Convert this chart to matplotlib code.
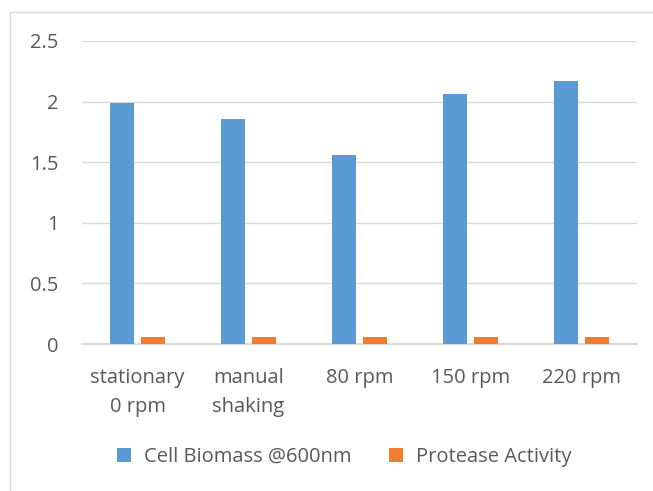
import numpy as np
import matplotlib

matplotlib.use("Agg")

import matplotlib.pyplot as plt
from matplotlib.patches import Rectangle

categories = ["stationary\n0 rpm", "manual\nshaking", "80 rpm", "150 rpm", "220 rpm"]
biomass = [1.99, 1.86, 1.56, 2.06, 2.17]
protease = [0.06, 0.06, 0.055, 0.055, 0.06]
yticks = [0, 0.5, 1, 1.5, 2, 2.5]
ytick_labels = ["0", "0.5", "1", "1.5", "2", "2.5"]

blue = "#5B9BD5"
orange = "#ED7D31"
text_col = "#595959"

plt.rcParams["font.family"] = ["Open Sans", "DejaVu Sans"]

fig = plt.figure(figsize=(6.53, 4.91), dpi=100)
fig.patches.append(Rectangle((10 / 653, -0.1), 1.0, 1 - 12 / 491 + 0.1,
                             transform=fig.transFigure, fill=False,
                             edgecolor="#D9D9D9", linewidth=1.0))

ax = fig.add_axes([82 / 653, 1 - 344 / 491, (637 - 82) / 653, (344 - 41) / 491])

x = np.arange(len(categories))
w = 0.22
gap = 0.06
ax.bar(x - (w + gap) / 2, biomass, w, color=blue, label="Cell Biomass @600nm", zorder=3)
ax.bar(x + (w + gap) / 2, protease, w, color=orange, label="Protease Activity", zorder=3)

ax.set_xlim(-0.5, len(categories) - 0.5)
ax.set_ylim(0, 2.5)
ax.set_yticks(yticks)
ax.set_yticklabels(ytick_labels)
ax.set_xticks(x)
ax.set_xticklabels(categories, linespacing=1.55)
ax.yaxis.grid(True, color="#D9D9D9", linewidth=1.0, zorder=0)
for s in ["top", "right", "left"]:
    ax.spines[s].set_visible(False)
ax.spines["bottom"].set_color("#D9D9D9")
ax.spines["bottom"].set_linewidth(1.5)
ax.tick_params(axis="both", length=0, colors=text_col, labelsize=14.5)
ax.tick_params(axis="y", pad=17)
ax.tick_params(axis="x", pad=17.5)

leg = fig.legend(loc="center", bbox_to_anchor=(0.527, 1 - 457 / 491), ncol=2,
                 frameon=False, fontsize=14.5, handlelength=0.7, handleheight=0.7,
                 columnspacing=1.85, handletextpad=0.65)
for t in leg.get_texts():
    t.set_color(text_col)

fig.savefig("out.png", dpi=100)
